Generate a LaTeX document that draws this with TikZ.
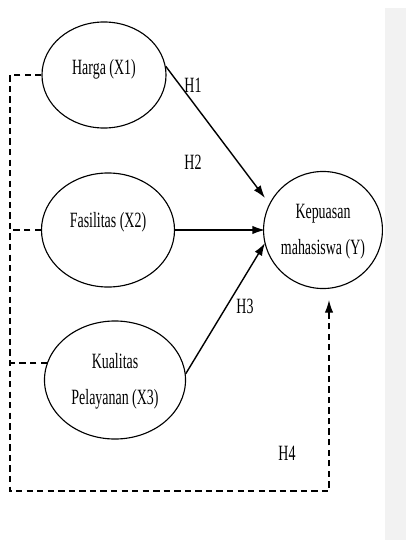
\documentclass[tikz,border=0pt]{standalone}
\usepackage{fontspec}
\setmainfont{Liberation Serif}[FakeStretch=0.64]
\usepackage{tikz}
\usetikzlibrary{arrows.meta,calc,positioning,shapes.geometric}
\tikzset{
  var/.style={draw, ellipse, line width=0.8pt, inner sep=0pt, align=center,
    font=\fontsize{15.5}{25.5}\selectfont},
  hyp/.style={line width=1pt, -{Latex[length=9pt,width=6pt]}},
  link/.style={line width=0.9pt, dash pattern=on 4.5pt off 3pt},
  hlab/.style={inner sep=0pt, font=\fontsize{15.5}{17}\selectfont}
}

\begin{document}
\begin{tikzpicture}[x=0.025cm, y=-0.025cm]
\useasboundingbox (0,0) rectangle (406,540);
\fill[black!5] (385,8) rectangle (406,540);
% variables
\node[var, minimum width=3.1cm, minimum height=2.65cm, text depth=12pt] (harga) at (104,75) {Harga (X1)};
\node[var, minimum width=3.325cm, minimum height=2.85cm, text depth=14pt] (fasilitas) at (108,230) {Fasilitas (X2)};
\node[var, minimum width=3.525cm, minimum height=2.95cm, text depth=1pt] (kualitas) at (115,380) {Kualitas\\Pelayanan (X3)};
\node[var, minimum width=2.8cm, minimum height=2.925cm, text depth=1pt] (kepuasan) at (323,230) {Kepuasan\\mahasiswa (Y)};
\coordinate (t1) at (265,198);
\coordinate (t2) at (265,230);
\coordinate (t3) at (265,243);
\coordinate (t4) at (329,300);
\coordinate (corner) at (10,491);
% hypotheses
\draw[hyp] (harga.8) -- (t1);
\draw[hyp] (fasilitas.east) -- (t2);
\draw[hyp] (kualitas.5) -- (t3);
\draw[link, -{Latex[length=9pt,width=6pt]}] (harga.west) -| (corner) -| (t4);
\draw[link] (fasilitas.west) -- (fasilitas.west -| corner);
\draw[link] (kualitas.166) -- (kualitas.166 -| corner);
\node[hlab] (h1) at (193,85) {H1};
\node[hlab] (h2) at (193,162) {H2};
\node[hlab] (h3) at (245,306) {H3};
\node[hlab] (h4) at (287,453) {H4};
\end{tikzpicture}
\end{document}
